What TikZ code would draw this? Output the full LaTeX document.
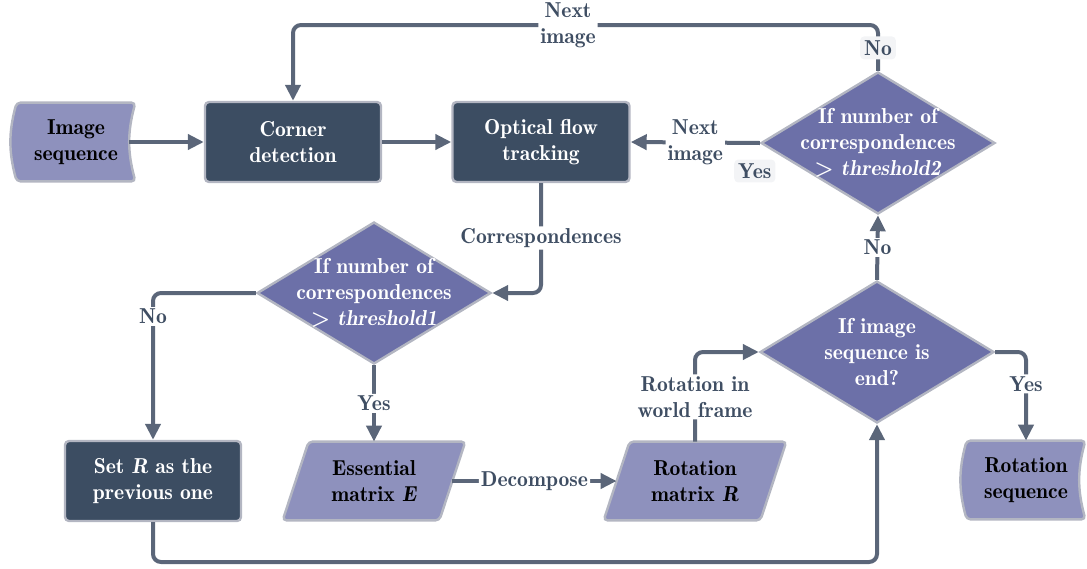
\documentclass[tikz,border=0pt]{standalone}
\usepackage{fontspec}
\setmainfont{lmromandemi10-regular.otf}[ItalicFont=lmromandemi10-oblique.otf,BoldFont=lmromandemi10-regular.otf,BoldItalicFont=lmromandemi10-oblique.otf]
\usepackage{xcolor}
\usepackage{tikz}
\usetikzlibrary{arrows.meta,positioning,calc,shapes.geometric,backgrounds}
\definecolor{boxdark}{HTML}{3C4D62}
\definecolor{datafill}{HTML}{8E91BD}
\definecolor{decfill}{HTML}{6C70A8}
\definecolor{rim}{HTML}{B3B6C2}
\definecolor{flowline}{HTML}{5B6679}
\definecolor{lbltext}{HTML}{3F4E63}
\definecolor{flagbg}{HTML}{F3F4F6}

\begin{document}
\begin{tikzpicture}[x=0.5pt,y=-0.5pt,
  font=\fontsize{10.8}{13}\selectfont\bfseries,
  process/.style={rectangle,rounded corners=2pt,fill=boxdark,draw=rim,line width=1.2pt,text=white,align=center,minimum width=88pt,minimum height=40pt,inner sep=0pt},
  decision/.style={diamond,fill=decfill,draw=rim,line width=1.2pt,minimum width=117pt,minimum height=71pt,inner sep=0pt},
  dtext/.style={text=white,align=center,inner sep=0pt},
  datanode/.style={rectangle,align=center,minimum height=39pt,inner sep=0pt},
  datashape/.style={fill=datafill,draw=rim,line width=1.2pt,rounded corners=2pt},
  flow/.style={draw=flowline,line width=2pt,rounded corners=4pt,-{Triangle[length=8pt,width=7.5pt]}},
  lbl/.style={fill=white,text=lbltext,align=center,inner sep=1pt},
  flag/.style={fill=flagbg,text=lbltext,rounded corners=2pt,inner sep=2pt}]
  \useasboundingbox (0,0) rectangle (1087,568);

  % top row
  \node[datanode,minimum width=59pt] (imgseq) at (76,142) {Image\\sequence};
  \node[process] (corner) at (293,142) {Corner\\detection};
  \node[process,minimum width=88.5pt] (optical) at (541,142) {Optical flow\\tracking};
  \node[decision,label={[dtext]center:{If number of\\correspondences\\> \textit{threshold2}}}] (dec2) at (878,143) {};

  % middle and bottom
  \node[decision,label={[dtext]center:{If number of\\correspondences\\> \textit{threshold1}}}] (dec1) at (374,293) {};
  \node[decision,label={[dtext]center:{If image\\sequence is\\end?}}] (dec3) at (877,352) {};
  \node[process] (setR) at (153,481) {Set \textit{R} as the\\previous one};
  \node[datanode,minimum width=78pt] (essE) at (374,481) {Essential\\matrix \textit{E}};
  \node[datanode,minimum width=78pt] (rotR) at (695,481) {Rotation\\matrix \textit{R}};
  \node[datanode,minimum width=59pt] (rotseq) at (1026,480) {Rotation\\sequence};

  \begin{scope}[on background layer]
    \foreach \n in {imgseq,rotseq}
      \path[datashape] (\n.north west) to[bend right=15] (\n.south west) -- (\n.south east) to[bend left=15] (\n.north east) -- cycle;
    \foreach \n in {essE,rotR}
      \path[datashape] ($(\n.south west)+(-13,0)$) -- ($(\n.north west)+(13,0)$) -- ($(\n.north east)+(13,0)$) -- ($(\n.south east)+(-13,0)$) -- cycle;
  \end{scope}

  \coordinate (toprow) at (0,25);
  \coordinate (botrow) at (0,562);

  \draw[flow,shorten <=-3pt] (imgseq.east) -- (corner.west);
  \draw[flow] (corner.east) -- (optical.west);
  \draw[flow] (dec2.west) -- node[lbl]{Next\\image} (optical.east);
  \node[flag] (yes2) at ($(dec2.west)+(-5,28)$) {Yes};
  \draw[flow] (dec2.north) -- node[flag]{No} (dec2.north |- toprow) -- node[lbl,pos=0.53]{Next\\image} (corner.north |- toprow) -- (corner.north);
  \draw[flow] (optical.south) |- node[lbl,pos=0.25]{Correspondences} (dec1.east);
  \draw[flow] (dec1.west) -| node[lbl,pos=0.58]{No} (setR.north);
  \draw[flow] (dec1.south) -- node[lbl]{Yes} (essE.north);
  \draw[flow] (essE.east) -- node[lbl]{Decompose} (rotR.west);
  \draw[flow] (rotR.north) |- node[lbl,pos=0.25]{Rotation in\\world frame} (dec3.west);
  \draw[flow] (setR.south) -- (setR.south |- botrow) -| (dec3.south);
  \draw[flow] (dec3.north) -- node[lbl]{No} (dec2.south);
  \draw[flow] (dec3.east) -| node[lbl,pos=0.68]{Yes} (rotseq.north);
\end{tikzpicture}
\end{document}
